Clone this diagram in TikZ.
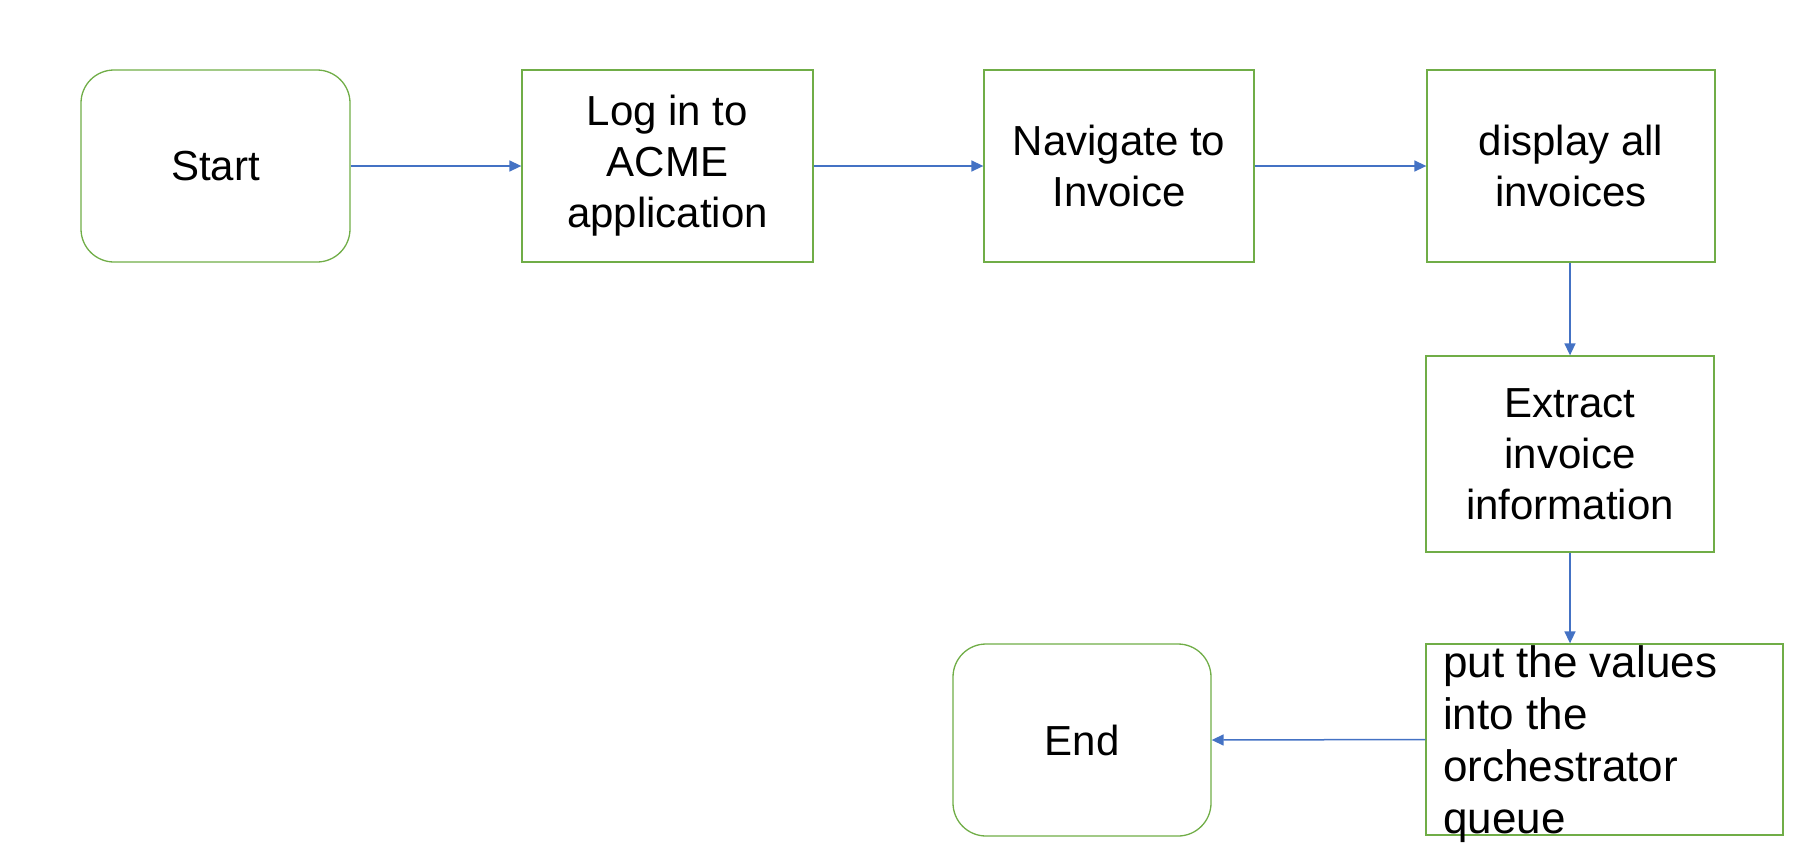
\documentclass[tikz,border=0pt]{standalone}
\usepackage{fontspec}
\setmainfont{Liberation Sans}
\usetikzlibrary{arrows.meta}
\definecolor{boxgreen}{RGB}{112,173,71}
\definecolor{arrblue}{RGB}{68,114,196}
\begin{document}
\begin{tikzpicture}[x=1pt,y=-1pt,
  box/.style={draw=boxgreen, line width=1.3pt, align=center, inner sep=0pt,
    font=\fontsize{42}{51}\selectfont},
  rbox/.style={box, rounded corners=33pt},
  conn/.style={draw=arrblue, line width=1.5pt, -{Triangle[length=12pt,width=11pt]}},
  plain/.style={inner sep=0pt, align=left, font=\fontsize{44}{52}\selectfont}]
\useasboundingbox (0,0) rectangle (1818,863);
\node[rbox, minimum width=269pt, minimum height=192pt] (start) at (215.5,166) {Start};
\node[box, minimum width=291pt, minimum height=192pt] (login) at (667.5,166) {Log in to\\ACME\\application};
\node[box, minimum width=270pt, minimum height=192pt] (nav) at (1119,166) {Navigate to\\Invoice};
\node[box, minimum width=288pt, minimum height=192pt] (disp) at (1571,166) {display all\\invoices};
\node[box, minimum width=288pt, minimum height=196pt] (extr) at (1570,454) {Extract\\invoice\\information};
\node[box, minimum width=357pt, minimum height=191pt] (put) at (1604.5,739.5) {};
\node[plain, anchor=north west] (puttext) at (1443,645) {put the values\\into the\\orchestrator\\queue};
\node[rbox, minimum width=258pt, minimum height=192pt] (end) at (1082,740) {End};
\draw[conn] (start.east) -- (login.west);
\draw[conn] (login.east) -- (nav.west);
\draw[conn] (nav.east) -- (disp.west);
\draw[conn] (disp.south -| extr.north) -- (extr.north);
\draw[conn] (extr.south) -- (extr.south |- put.north);
\draw[conn] (put.west) -- (end.east);
\end{tikzpicture}
\end{document}
